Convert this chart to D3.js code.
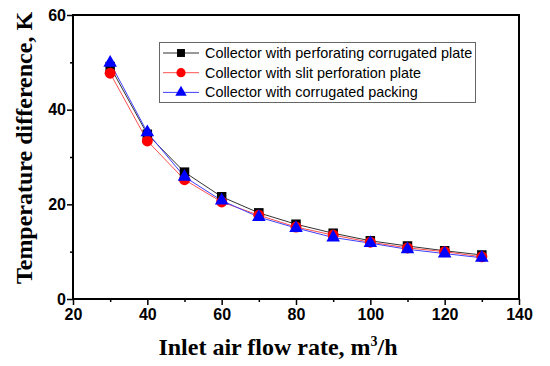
<!DOCTYPE html>
<html>
<head>
<meta charset="utf-8">
<script src="https://cdn.jsdelivr.net/npm/d3@7"></script>
<style>
  body { margin: 0; background: #fff; }
  svg { display: block; }
</style>
</head>
<body>
<div id="chart"></div>
<script>
// flow rates (m3/h)
var flowRates = [30, 40, 50, 60, 70, 80, 90, 100, 110, 120, 130];
// temperature difference (K) for each collector
var corrugatedPlate = [49.1, 34.8, 26.8, 21.6, 18.2, 15.8, 13.9, 12.3, 11.2, 10.2, 9.3];
var slitPlate = [47.7, 33.4, 25.2, 20.5, 17.7, 15.2, 13.5, 12.0, 10.8, 10.0, 8.9];
var corrugatedPacking = [49.9, 35.2, 25.8, 20.8, 17.3, 15.0, 13.0, 11.8, 10.5, 9.6, 8.7];
var seriesNames = [
	"Collector with perforating corrugated plate",
	"Collector with slit perforation plate",
	"Collector with corrugated packing"
];
var xTicks = [20, 40, 60, 80, 100, 120, 140];
var yTicks = [0, 20, 40, 60];

var width = 550, height = 366;
var plotLeft = 73, plotRight = 519, plotTop = 15, plotBottom = 299;

var svg = d3.select("#chart").append("svg")
	.attr("width", width)
	.attr("height", height);

var x = d3.scaleLinear().domain([20, 140]).range([plotLeft, plotRight]);
var y = d3.scaleLinear().domain([0, 60]).range([plotBottom, plotTop]);

//frame
svg.append("rect")
	.attr("x", plotLeft)
	.attr("y", plotTop)
	.attr("width", plotRight - plotLeft)
	.attr("height", plotBottom - plotTop)
	.style("fill", "none")
	.style("stroke", "#000")
	.style("stroke-width", 2);

//x axis major + minor ticks
svg.append("g")
	.attr("transform", "translate(0," + plotBottom + ")")
	.call(d3.axisBottom(x).tickValues(xTicks).tickSize(6).tickPadding(4).tickFormat(d3.format("d")));
svg.append("g")
	.attr("transform", "translate(0," + plotBottom + ")")
	.call(d3.axisBottom(x).tickValues([30, 50, 70, 90, 110, 130]).tickSize(3).tickFormat(""));

svg.append("g")
	.attr("transform", "translate(" + plotLeft + ",0)")
	.call(d3.axisLeft(y).tickValues(yTicks).tickSize(6).tickPadding(1).tickFormat(d3.format("d")));
svg.append("g")
	.attr("transform", "translate(" + plotLeft + ",0)")
	.call(d3.axisLeft(y).tickValues([10, 30, 50]).tickSize(3).tickFormat(""));

svg.selectAll(".domain").remove();
svg.selectAll(".tick line").style("stroke", "#000").style("stroke-width", 1.5);
svg.selectAll(".tick text")
	.style("font-family", "Liberation Sans, Arial, sans-serif")
	.style("font-weight", "bold")
	.style("font-size", "16px")
	.style("fill", "#000");

//axis titles
svg.append("text")
	.attr("x", 278)
	.attr("y", 355)
	.attr("text-anchor", "middle")
	.style("font-family", "Liberation Serif, Times New Roman, serif")
	.style("font-weight", "bold")
	.style("font-size", "24px")
	.html("Inlet air flow rate, m<tspan dy='-9' font-size='14px'>3</tspan><tspan dy='9'>/h</tspan>");

svg.append("text")
	.attr("transform", "translate(32,148) rotate(-90)")
	.attr("text-anchor", "middle")
	.style("font-family", "Liberation Serif, Times New Roman, serif")
	.style("font-weight", "bold")
	.style("font-size", "24px")
	.text("Temperature difference, K");

var series = [
	{ name: seriesNames[0], values: corrugatedPlate, line: "#333", fill: "#000", symbol: d3.symbolSquare, size: 90 },
	{ name: seriesNames[1], values: slitPlate, line: "#ff5050", fill: "#ff0000", symbol: d3.symbolCircle, size: 95 },
	{ name: seriesNames[2], values: corrugatedPacking, line: "#4040ff", fill: "#0000ff", symbol: d3.symbolTriangle, size: 80 }
];

var line = d3.line()
	.x(function(d, i) { return x(flowRates[i]); })
	.y(function(d) { return y(d); });

series.forEach(function(s) {
	svg.append("path")
		.datum(s.values)
		.attr("d", line)
		.style("fill", "none")
		.style("stroke", s.line)
		.style("stroke-width", 1);
});

series.forEach(function(s) {
	svg.selectAll(null)
		.data(s.values)
		.enter()
		.append("path")
		.attr("d", d3.symbol().type(s.symbol).size(s.size))
		.attr("transform", function(d, i) { return "translate(" + x(flowRates[i]) + "," + y(d) + ")"; })
		.style("fill", s.fill);
});

//legend
var legend = svg.append("g");
legend.append("rect")
	.attr("x", 159.5)
	.attr("y", 42.5)
	.attr("width", 316)
	.attr("height", 60)
	.style("fill", "#fff")
	.style("stroke", "#666")
	.style("stroke-width", 1);

series.forEach(function(s, i) {
	var ly = 53 + i * 19.7;
	legend.append("line")
		.attr("x1", 163)
		.attr("x2", 199)
		.attr("y1", ly)
		.attr("y2", ly)
		.style("stroke", s.line)
		.style("stroke-width", 1);
	legend.append("path")
		.attr("d", d3.symbol().type(s.symbol).size(s.size * 0.7))
		.attr("transform", "translate(181," + ly + ")")
		.style("fill", s.fill);
	legend.append("text")
		.attr("x", 205)
		.attr("y", ly + 5)
		.style("font-family", "Liberation Sans, Arial, sans-serif")
		.style("font-size", "14.4px")
		.text(s.name);
});
</script>
</body>
</html>
